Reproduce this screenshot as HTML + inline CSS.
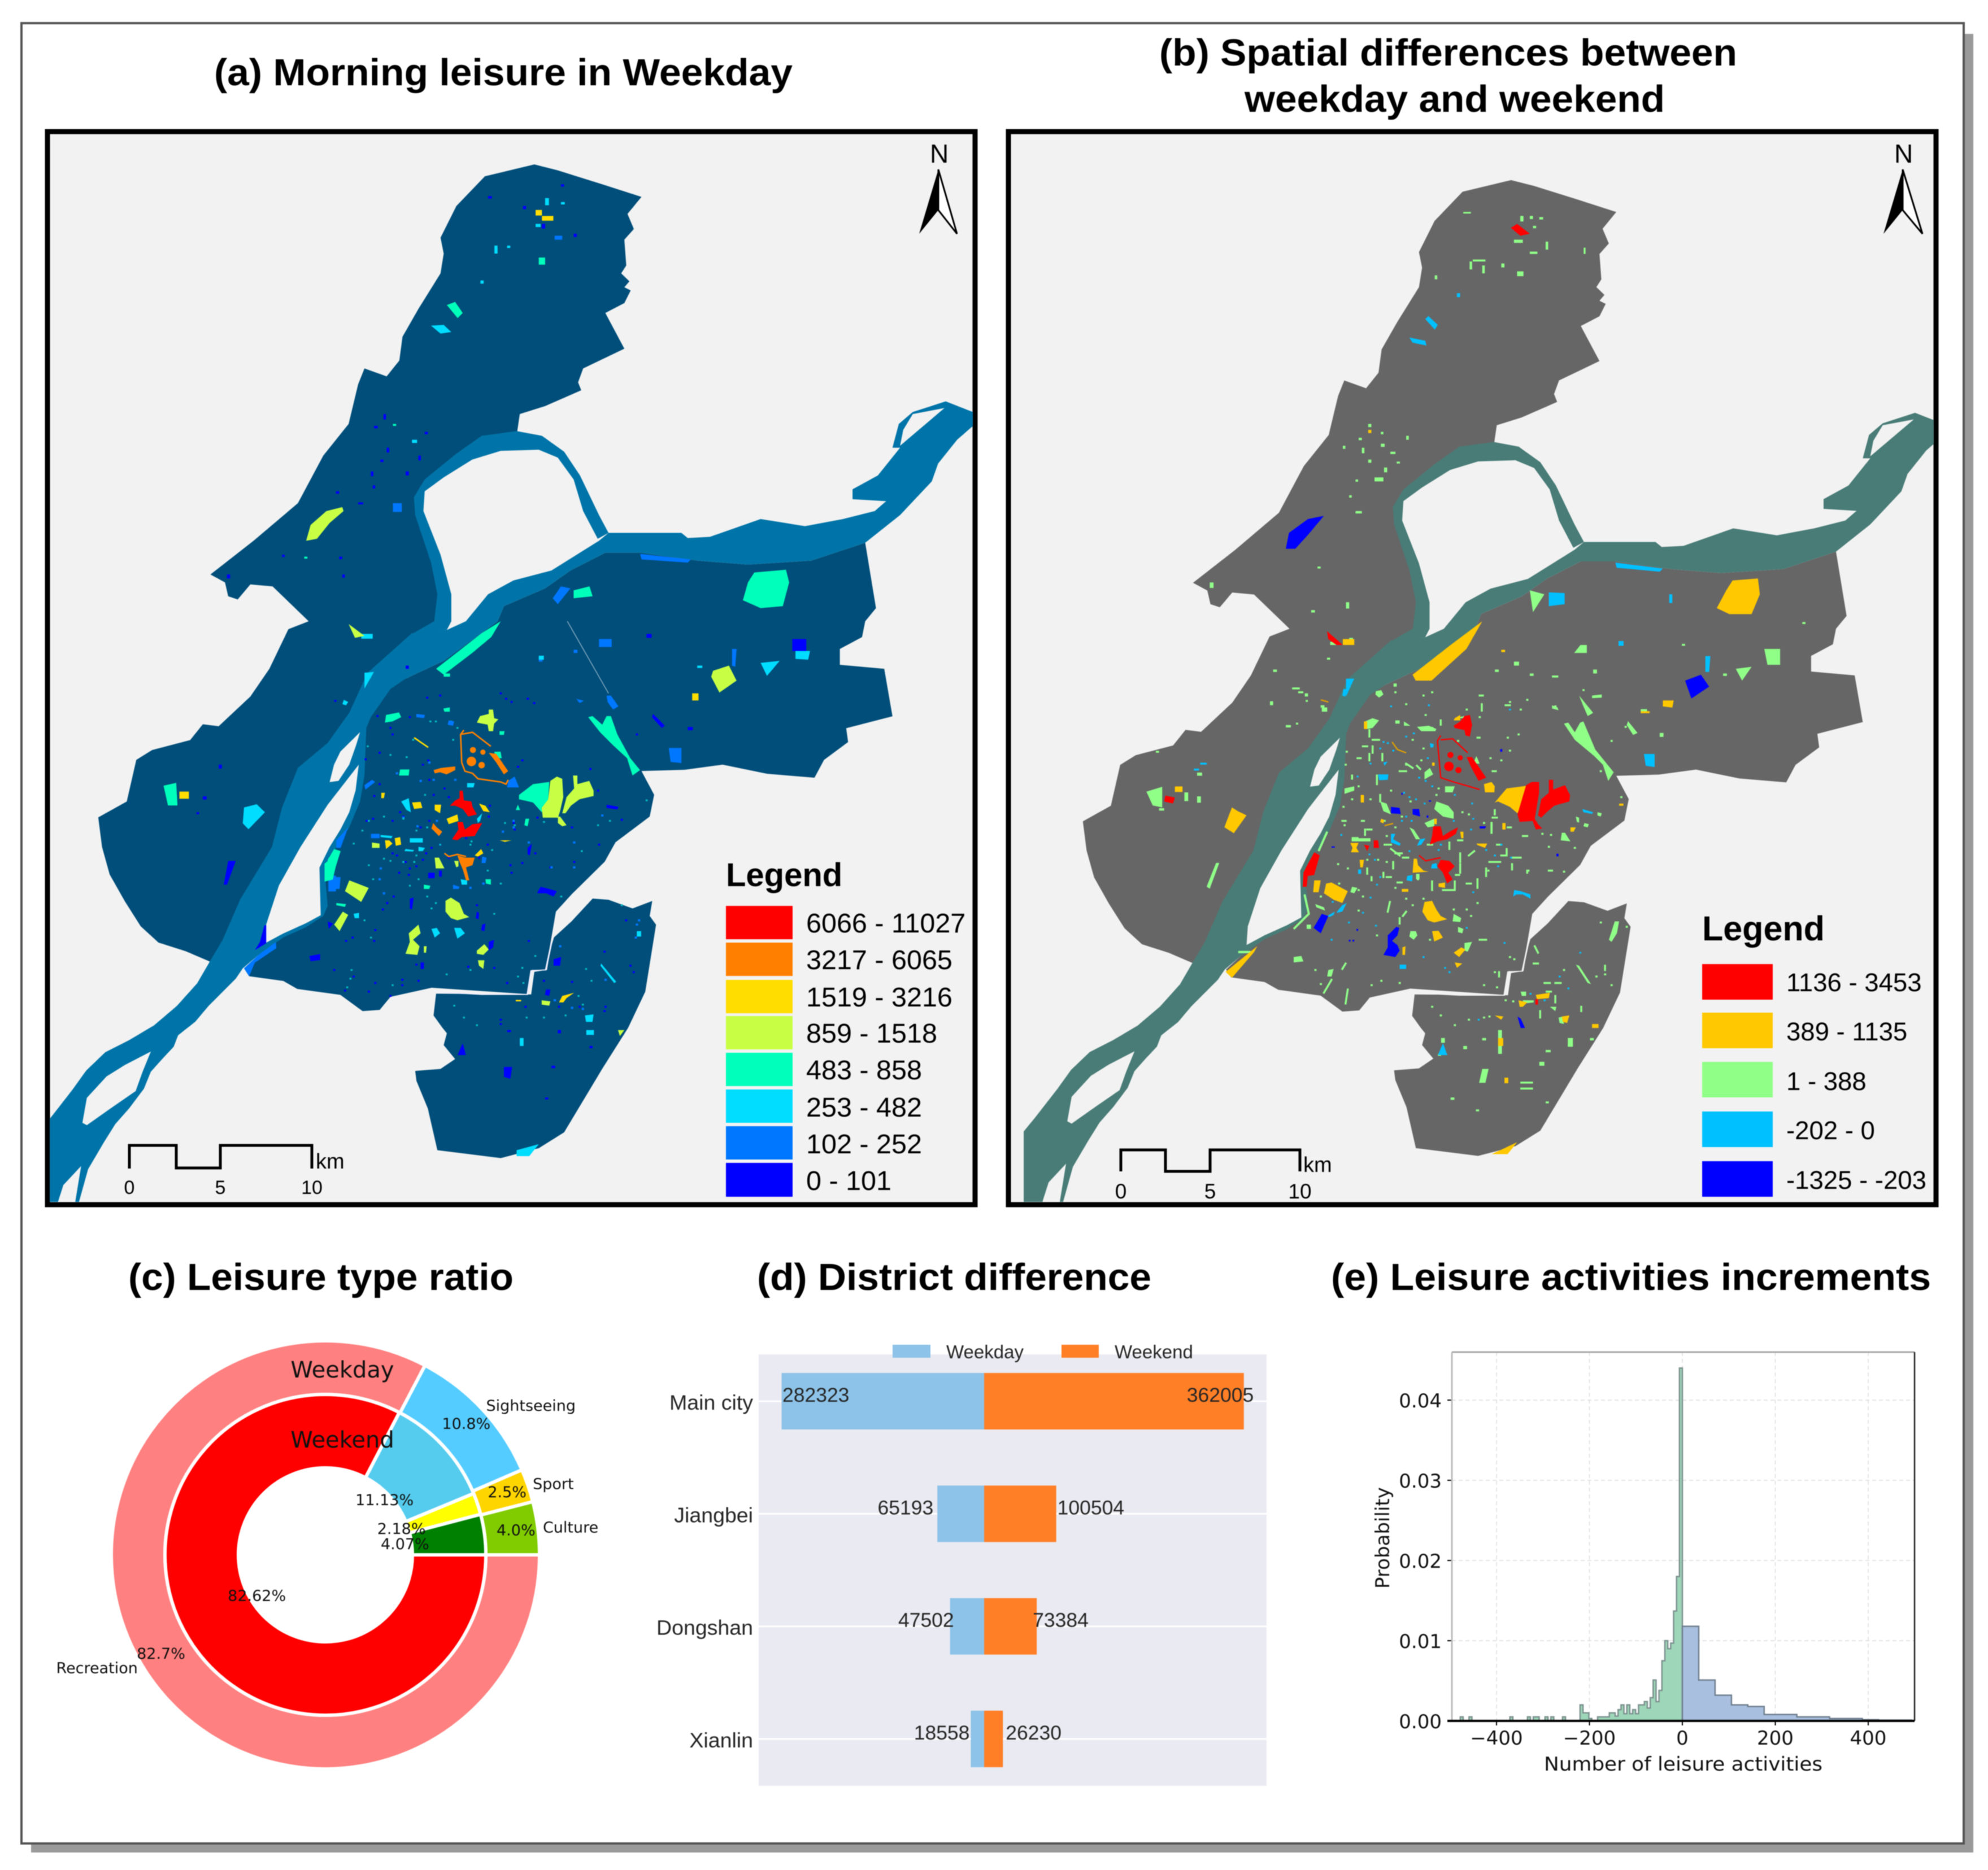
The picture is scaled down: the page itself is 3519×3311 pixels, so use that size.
<!DOCTYPE html>
<html lang="en">
<head>
<meta charset="utf-8">
<title>Leisure activity maps and charts</title>
<style>
html,body{margin:0;padding:0;background:#fff;}
svg{display:block;filter:blur(0.8px);}
text{font-family:"Liberation Sans",sans-serif;}
.dj{font-family:"DejaVu Sans",sans-serif;}
.ttl{font-weight:bold;font-size:67px;fill:#000;}
</style>
</head>
<body>
<svg id="root" xmlns="http://www.w3.org/2000/svg" width="3519" height="3311" viewBox="0 0 3519 3311">
<defs>
<clipPath id="clipA"><rect x="88" y="237" width="1634" height="1891"/></clipPath>
<clipPath id="clipB"><rect x="1789" y="237" width="1634" height="1891"/></clipPath>
<path id="landWest" d="M843 415L880 430 950 465 1012 497 990 540 1000 578 985 605 988 670 980 690 993 710 985 725 995 733 985 765 955 790 985 880 920 930 912 965 917 985 860 1025 820 1045 815 1100 760 1110 720 1155 680 1215 660 1255 662 1300 688 1420 700 1500 695 1568 655 1605 590 1698 560 1799 525 1875 480 1938 455 2038 437 2138 387 2270 359 2373 339 2427 331 2427 293 2401 250 2379 222 2338 197 2275 173 2207 161 2138 155 2063 200 2023 215 1918 240 1893 300 1868 320 1828 345 1833 395 1758 425 1688 455 1588 487 1568 430 1480 395 1475 375 1513 360 1505 355 1470 332 1450 400 1365 470 1270 510 1150 550 1070 565 970 575 930 610 950 630 910 635 850 660 780 695 690 700 640 695 600 720 520 765 445Z"/>
<path id="landEast" d="M1365 1370L1382 1535 1365 1568 1360 1608 1325 1638 1325 1678 1395 1688 1408 1808 1335 1838 1338 1873 1300 1918 1285 1963 1210 1953 1140 1930 1080 1943 1012 1946 1032 2006 1025 2061 971 2126 954 2175 902 2257 877 2301 870 2366 861 2448 839 2448 832 2509 681 2493 616 2516 599 2549 572 2552 537 2511 469 2496 447 2476 393 2464 385 2444 425 2385 480 2335 505 2310 505 2195 515 2160 530 2132 545 2088 562 2023 570 1957 572 1837 580 1810 610 1739 640 1713 700 1668 785 1568 795 1530 860 1485 900 1440 955 1395 1010 1395 1100 1415 1180 1425 1280 1415Z"/>
<path id="landSouth" d="M688 2508L684 2563 698 2594 705 2608 700 2638 718 2673 695 2698 655 2703 657 2728 675 2798 690 2903 790 2923 850 2898 890 2858 950 2698 991 2594 1018 2503 1035 2334 1025 2312 1029 2274 998 2293 960 2271 935 2268 902 2325 874 2366 868 2398 863 2448 843 2453 838 2510Z"/>
<path id="riverMain" d="M1492 1013L1535 1040 1535 1075 1510 1110 1480 1170 1470 1215 1420 1300 1365 1370 1280 1415 1180 1425 1100 1415 1010 1395 955 1395 900 1440 860 1485 795 1530 785 1568 700 1668 640 1713 616 1739 585 1810 578 1837 575 1957 568 2023 551 2088 534 2132 520 2160 512 2195 517 2287 510 2312 483 2340 447 2366 430 2385 408 2410 383 2444 372 2470 329 2539 308 2579 281 2613 274 2642 257 2671 238 2705 227 2748 204 2797 182 2837 164 2883 139 2951 120 3060 60 3060 60 2860 78 2825 114 2751 136 2702 166 2656 204 2625 243 2588 279 2539 311 2482 331 2427 351 2373 379 2270 429 2138 445 2038 470 1938 517 1875 551 1799 580 1698 650 1598 705 1590 735 1568 770 1500 810 1465 870 1440 945 1365 960 1345 1075 1345 1085 1358 1120 1355 1200 1310 1270 1328 1330 1310 1380 1290 1398 1265 1345 1260 1345 1235 1385 1200 1420 1130 1408 1130 1418 1070 1440 1040Z"/>
<path id="riverArch" d="M815 1088L760 1100 720 1145 670 1210 653 1255 655 1300 680 1420 690 1500 685 1568 650 1600 705 1590 712 1568 712 1500 695 1400 668 1290 670 1240 700 1205 745 1160 790 1138 850 1135 880 1155 905 1210 920 1290 943 1360 960 1345 945 1300 915 1200 890 1140 855 1100Z"/>
<path id="riverHoles" d="M1440 1045L1490 1030 1420 1125 1425 1085ZM568 1848L537 1897 527 1930 520 1974 534 1971 551 1930 562 1880ZM566 1930L517 2031 474 2138 440 2235 420 2333 418 2381 447 2356 483 2330 506 2310 504 2190 520 2138 537 2094 551 2050 561 1995ZM238 2654L197 2688 168 2717 137 2771 130 2834 137 2840 175 2797 214 2754 225 2705ZM128 2943L100 2991 91 3036 88 3060 116 3060Z"/>
</defs>

<rect x="0" y="0" width="3519" height="3311" fill="#fff"/>
<rect x="55" y="60" width="3438" height="3220" fill="#9a9a9a"/>
<rect x="38" y="41" width="3438" height="3223" fill="#fff" stroke="#555" stroke-width="4"/>

<text class="ttl" x="379" y="151" textLength="1024" lengthAdjust="spacingAndGlyphs">(a) Morning leisure in Weekday</text>
<text class="ttl" x="2052" y="116" textLength="1023" lengthAdjust="spacingAndGlyphs">(b) Spatial differences between</text>
<text class="ttl" x="2203" y="198" textLength="744" lengthAdjust="spacingAndGlyphs">weekday and weekend</text>
<text class="ttl" x="227" y="2284" textLength="682" lengthAdjust="spacingAndGlyphs">(c) Leisure type ratio</text>
<text class="ttl" x="1340" y="2284" textLength="698" lengthAdjust="spacingAndGlyphs">(d) District difference</text>
<text class="ttl" x="2356" y="2284" textLength="1062" lengthAdjust="spacingAndGlyphs">(e) Leisure activities increments</text>

<!-- MAP A -->
<g>
<rect x="84" y="233" width="1642" height="1900" fill="#f2f2f2" stroke="#000" stroke-width="9"/>
<g clip-path="url(#clipA)">
<g transform="matrix(1.122,0,0,.7015,0,0)">
<g fill="#014e7a"><use href="#landWest"/><use href="#landEast"/><use href="#landSouth"/></g>
<path d="M690 2504L760 2510 832 2510 838 2450 861 2448 870 2380" fill="none" stroke="#eef" stroke-width="2.5"/>
<path d="M895 1568L960 1750" fill="none" stroke="#7fa6bd" stroke-width="1.5"/>
<g fill="#0074a8"><use href="#riverMain"/><use href="#riverArch"/></g>
<use href="#riverHoles" fill="#f2f2f2"/>

<path fill="#0000ff" d="M360 2173L372 2173 358 2233 353 2233ZM417 2336L420 2335 420 2381 402 2398 410 2378ZM488 2413L505 2408 505 2423 490 2426ZM795 2693L808 2693 805 2723 795 2718ZM1250 1613L1272 1613 1272 1643 1250 1643ZM730 2633L735 2663 722 2663Z
M825 520h5v8h-5zM905 590h5v8h-5zM855 565h5v12h-5zM885 465h5v6h-5zM770 495h6v6h-6zM605 1045h4v14h-4zM590 1075h6v6h-6zM610 1130h4v12h-4zM600 1160h5v6h-5zM585 1190h4v12h-4zM660 1150h4v12h-4zM670 1090h5v6h-5zM640 1190h5v10h-5zM588 1225h4v8h-4zM530 1240h5v6h-5zM565 1268h8v5h-8zM445 1400h4v6h-4zM535 1405h5v6h-5zM540 1450h4v8h-4zM358 1450h5v10h-5z
M1020 1600h8v10h-8zM850 1660h6v10h-6zM640 1680h5v8h-5zM1085 1835h8v8h-8zM320 2010h6v8h-6zM345 1930h5v10h-5zM310 2050h4v5h-4zM800 2600h6v5h-6zM880 2600h5v8h-5zM870 2690h6v6h-6zM930 2640h5v6h-5zM860 2770h5v5h-5z"/>

<path fill="#0077ff" d="M1010 1398L1090 1412 1085 1420 1012 1412ZM885 1480L900 1485 880 1525 872 1510ZM1055 1888L1075 1888 1075 1926 1058 1923ZM945 1613L965 1613 965 1633 945 1633ZM1155 1638L1162 1638 1160 1683 1155 1680ZM385 2444L393 2464 402 2430 436 2393 435 2378 408 2410ZM620 1270h14v22h-14zM875 595h12v10h-12zM850 1660h6v10h-6zM905 1640h6v8h-6zM518 2210h12v40h-12z"/>

<path fill="#00ddff" d="M680 822L700 820 712 838 695 842ZM385 2038L405 2030 418 2050 392 2093 383 2078ZM815 2903L850 2888 835 2918 815 2918ZM1200 1673L1230 1668 1210 1706ZM1255 1643L1278 1643 1275 1665 1255 1663ZM575 1698L590 1696 575 1738ZM860 500h6v18h-6zM885 510h6v6h-6zM845 565h8v8h-8zM780 620h5v20h-5zM800 620h5v6h-5zM758 708h5v8h-5zM650 1110h8v8h-8zM570 1600h18v12h-18zM850 1655h8v10h-8zM820 2620h6v20h-6zM925 2600h12v12h-12zM1100 1680h8v6h-8z"/>

<path fill="#00ffbb" d="M1190 1445L1240 1438 1245 1470 1235 1530 1200 1535 1172 1515 1180 1470ZM705 770L718 762 730 790 722 803ZM905 1490L930 1480 935 1505 905 1510ZM790 1568L775 1608 745 1648 700 1703 688 1688 720 1648 760 1598ZM258 1983L278 1976 280 2033 265 2033ZM512 2180L535 2150 525 2220 512 2225ZM850 650h10v18h-10zM620 1070h5v5h-5zM480 1405h5v5h-5zM700 1700h10v8h-10z"/>

<path fill="#c8ff44" d="M540 1280L515 1290 490 1325 483 1365 500 1360 520 1320 542 1290ZM1125 1693L1150 1680 1162 1718 1135 1748 1122 1708ZM550 1575L575 1605 560 1610ZM975 2600L985 2600 978 2615Z"/>

<path fill="#ffdd00" d="M283 1998h15v18h-15zM845 530h10v14h-10zM855 545h18v12h-18zM1092 1750h10v18h-10z"/>
</g>

<!-- central city detail of map A -->
<g transform="matrix(.3827,0,0,.3827,580,1220)">
<path fill="none" stroke="#0000ff" stroke-width="9" stroke-linecap="square" d="M35 55h1M460 40h1M520 30h1M800 20h1M825 45h1M850 60h1M925 45h1M955 65h1M230 125h1M380 130h1M290 180h1M300 210h1M240 295h1M175 325h1M240 440h1M215 495h1M195 430h1M440 350h1M465 330h1M470 420h1M540 460h1M490 490h1M560 500h1M470 610h1M430 640h1M350 590h1M335 570h1M300 610h1M210 600h1M180 610h1M300 760h1M320 770h1M330 850h1M380 830h1M375 860h1M410 820h1M360 800h1M440 790h1M455 760h1M480 735h1M520 720h1M560 780h1M640 690h1M700 780h1M740 720h1M745 590h1M750 540h1M860 620h1M865 650h1M970 595h1M1010 540h1M1130 640h1M1250 470h1M1255 720h1M1360 605h1M1430 210h1M1535 155h1M1215 370h1M900 330h1M880 360h1M1140 800h1M845 815h1M900 805h1M1030 825h1M850 850h1M960 760h1M690 1000h1M275 990h1M305 960h1M255 1020h1M220 1115h1M115 1150h1M85 1165h1M215 1165h1M410 1275h1M650 1285h1M770 1290h1M1000 1350h1M830 1360h1M930 1165h1M1280 1215h1M1400 1280h1M1415 1310h1M1380 1070h1M1285 1470h1M345 1345h1M345 1370h1M290 1420h1M190 1400h1M420 1350h1M220 1360h1M80 1395h1M30 1300h1M120 1330h1M1165 1470h1M1070 1470h1M1130 1355h1M915 1470h1M800 1530h1M800 1550h1M1280 1490h1"/>
<path fill="none" stroke="#0077ff" stroke-width="10" stroke-linecap="square" d="M470 340h1M490 420h1M590 420h1M430 425h1M320 390h1M860 610h1M860 640h1M1270 585h1M1140 710h1M1140 825h1M1035 825h1M810 660h1M930 710h1M245 830h1M260 945h1M240 880h1M505 610h1M415 635h1M350 595h1M720 900h1M660 920h1M1075 1190h1M1430 1090h1M1440 1070h1M1425 1150h1M1015 1400h1M1050 1440h1M1130 1475h1M1180 1480h1M1285 1345h1"/>
<path fill="none" stroke="#00bfc4" stroke-width="8" stroke-linecap="square" d="M185 265h1M290 305h1M365 315h1M395 235h1M580 235h1M475 150h1M500 150h1M570 150h1M600 180h1M450 490h1M260 590h1M190 610h1M160 655h1M120 715h1M410 655h1M460 640h1M350 600h1M410 770h1M260 785h1M290 795h1M350 800h1M400 800h1M190 815h1M210 880h1M380 910h1M420 880h1M520 720h1M665 705h1M660 720h1M760 745h1M740 840h1M800 900h1M865 630h1M820 620h1M1000 615h1M1250 630h1M1305 610h1M1475 515h1M1175 750h1M1080 960h1M500 990h1M460 960h1M480 1015h1M170 1070h1M200 1150h1M110 1300h1M105 1340h1M90 1380h1M300 1370h1M550 1320h1M660 1300h1M770 1040h1M900 1290h1M880 1330h1M905 1360h1M960 1235h1M1195 1295h1M1360 1000h1M1220 1350h1M585 1465h1M630 1520h1M690 1555h1M920 1520h1M1000 1520h1M1100 1510h1M1160 1420h1M1180 1460h1"/>
<path fill="#0077ff" d="M835 425L865 405 885 455 830 455ZM1290 30L1310 30 1345 80 1320 95 1295 60ZM30 870L60 870 55 925 30 925ZM1150 45L1185 55 1165 65ZM205 420L220 430 175 465 170 445ZM200 670L240 670 240 690 200 690ZM410 115L450 120 445 135 410 130ZM560 145L585 150 580 170 555 165ZM580 905L610 915 605 925 580 925ZM715 775L735 780 730 805 712 805ZM40 700L95 640 60 735 40 735Z"/>
<path fill="#0000ff" d="M970 940L985 915 1025 925 1060 935 1045 960 1010 945 970 945ZM465 850L495 850 495 875 465 875ZM515 840L528 840 528 868 515 868ZM745 1170L770 1160 765 1195 745 1210ZM0 1075L25 1085 5 1110ZM1290 535L1345 545 1340 557 1290 550ZM1505 115L1560 170 1545 180 1500 130ZM430 1265L445 1265 445 1295 430 1295ZM380 970L398 965 390 1020 380 1015ZM690 1030L700 1035 698 1065 685 1060ZM715 1090L730 1085 725 1120 710 1115ZM925 735L945 715 935 770 925 765ZM1045 1250L1080 1240 1075 1280 1045 1280ZM1010 1390L1030 1390 1025 1420 1005 1415Z"/>
<path fill="#00ddff" d="M340 520L375 505 385 570 365 560ZM645 435L680 435 675 455 645 455ZM480 1110L505 1105 520 1130 495 1150ZM585 1105L615 1105 635 1130 600 1155ZM615 880L645 885 645 905 620 905ZM380 690L440 690 440 710 380 710ZM420 730L450 735 440 750 420 750ZM245 675L300 680 295 690 245 685ZM690 600L715 575 705 610 695 620ZM1265 1270L1335 1355 1325 1360 1262 1280ZM1430 1120L1450 1120 1450 1145 1430 1145ZM120 1040L145 1035 145 1060 125 1060ZM1190 1510L1230 1505 1225 1540 1195 1540ZM75 50L95 60 85 75 68 70ZM360 740L400 745 395 752 355 750Z"/>
<path fill="#00ffbb" d="M1025 430L1020 510 990 570 950 525 885 510 885 490 950 440ZM270 120L330 108 340 130 300 150 265 155ZM1205 130L1225 125 1270 165 1290 125 1310 125 1340 210 1400 320 1445 375 1410 400 1385 320 1320 260 1260 200ZM335 372L378 372 375 400 330 400ZM535 90L565 85 565 105 540 105ZM0 790L30 740 60 750 30 845 0 848ZM795 195L818 195 815 212 795 212ZM880 535L890 560 870 560ZM915 600L932 600 925 635 910 630ZM770 290L800 290 805 320 780 320ZM730 880L755 880 755 905 732 900ZM445 905L475 910 470 925 445 925ZM40 990L85 995 80 1008 40 1000Z"/>
<path fill="#c8ff44" d="M705 125L745 115 745 95 765 95 770 135 790 140 770 160 765 195 745 195 740 165 690 155ZM1030 425L1060 405 1085 415 1090 500 1075 565 1065 595 995 595 990 550 1020 510ZM1135 400L1155 400 1155 440 1210 425 1230 470 1230 495 1165 510 1125 540 1100 575 1085 575 1105 500 1140 460ZM1065 590L1075 590 1105 630 1085 635 1065 620ZM100 885L190 920 155 985 80 935ZM545 980L570 965 610 990 630 1040 655 1055 600 1070 570 1060 545 1030ZM70 1030L95 1045 55 1120 30 1090ZM420 1090L430 1130 395 1160 425 1190 415 1230 360 1225 380 1170 375 1130ZM690 1210L725 1180 745 1205 720 1230 690 1225ZM695 1255L725 1255 720 1295 700 1280ZM495 780L515 780 540 830 500 830ZM205 710L240 715 240 735 205 735ZM990 1440L1030 1445 1025 1465 990 1460ZM585 795L605 795 605 820 595 825ZM445 1190L458 1190 455 1220 445 1220Z"/>
<path fill="#ffdd00" d="M390 525L430 522 438 550 400 555ZM495 535L525 535 520 575 495 560ZM550 600L600 580 605 610 560 625ZM700 530L730 540 750 570 720 565ZM248 480L265 480 260 505 248 505ZM680 770L710 740 720 760 695 775ZM265 700L285 700 300 715 270 740ZM310 690L335 685 340 720 315 725ZM795 700L850 700 820 707ZM1085 1420L1140 1405 1105 1430 1090 1450 1070 1450ZM870 1438L895 1438 895 1445 870 1445Z"/>
<path fill="none" stroke="#ffdd00" stroke-width="7" d="M400 225L465 270"/>
<path fill="#ff8000" d="M488 620L505 640 530 660 515 680 480 645ZM490 375L525 365 590 358 590 375 550 395 520 385 495 390ZM745 295L780 300 835 380 815 395 780 340ZM600 770L635 780 680 780 670 815 640 825 655 885 640 885 625 835 610 800Z"/>
<g fill="#ff8000"><circle cx="672" cy="282" r="14"/><circle cx="718" cy="292" r="12"/><circle cx="665" cy="335" r="22"/><circle cx="712" cy="352" r="15"/></g>
<path fill="none" stroke="#ff8000" stroke-width="7" d="M630 190L615 210 620 340 635 380 670 390 695 415 800 430 825 440 835 420M615 210L670 200 755 265M540 760L560 775 600 765 640 775"/>
<path fill="#ff0000" d="M610 470L625 470 630 515 665 520 670 545 690 580 650 590 625 555 590 540 565 540 590 515 610 505ZM600 615L625 615 635 650 670 625 715 620 680 680 620 685 600 700 575 695 605 650Z"/>
</g>
</g>
<text x="1646" y="288" font-size="46">N</text>
<path d="M1661 300L1627 414 1661 372Z" fill="#000"/>
<path d="M1661 300L1694 414 1661 372Z" fill="#fff" stroke="#000" stroke-width="3"/>
<path d="M229 2069V2028H312V2068H390V2028H552V2069" fill="none" stroke="#000" stroke-width="5"/>
<g font-size="34" text-anchor="middle">
<text x="229" y="2114">0</text>
<text x="390" y="2114">5</text>
<text x="552" y="2114">10</text>
</g>
<text x="559" y="2069" font-size="38">km</text>

<g>
<text x="1285" y="1569" font-size="58" font-weight="bold">Legend</text>
<g><rect x="1285" y="1604" width="118" height="59" fill="#ff0000"/><text x="1427" y="1651" font-size="48.5">6066 - 11027</text></g>
<g><rect x="1285" y="1669" width="118" height="59" fill="#ff8000"/><text x="1427" y="1716" font-size="48.5">3217 - 6065</text></g>
<g><rect x="1285" y="1735" width="118" height="59" fill="#ffdd00"/><text x="1427" y="1782" font-size="48.5">1519 - 3216</text></g>
<g><rect x="1285" y="1799" width="118" height="59" fill="#c8ff44"/><text x="1427" y="1846" font-size="48.5">859 - 1518</text></g>
<g><rect x="1285" y="1864" width="118" height="59" fill="#00ffbb"/><text x="1427" y="1911" font-size="48.5">483 - 858</text></g>
<g><rect x="1285" y="1929" width="118" height="59" fill="#00ddff"/><text x="1427" y="1977" font-size="48.5">253 - 482</text></g>
<g><rect x="1285" y="1994" width="118" height="59" fill="#0077ff"/><text x="1427" y="2042" font-size="48.5">102 - 252</text></g>
<g><rect x="1285" y="2059" width="118" height="60" fill="#0000ff"/><text x="1427" y="2107" font-size="48.5">0 - 101</text></g>
</g>
</g>

<!-- MAP B -->
<g>
<rect x="1785" y="233" width="1642" height="1900" fill="#f2f2f2" stroke="#000" stroke-width="9"/>
<g clip-path="url(#clipB)">
<g transform="matrix(1.1018,0,0,.6889,1746,33)">
<g fill="#666"><use href="#landWest"/><use href="#landEast"/><use href="#landSouth"/></g>
<path d="M690 2504L760 2510 832 2510 838 2450 861 2448 870 2380" fill="none" stroke="#f2f2f2" stroke-width="2.5"/>
<g fill="#497c77"><use href="#riverMain"/><use href="#riverArch"/></g>
<use href="#riverHoles" fill="#f2f2f2"/>
</g>
<g transform="matrix(1.1218,0,0,.7015,1760,0)">
<path fill="#90ff88" d="M240 1998L265 1986 265 2038 250 2033ZM925 1628L935 1628 935 1648 915 1648ZM1215 1638L1240 1638 1240 1678 1220 1678ZM1170 1688L1195 1683 1180 1718ZM335 2238L350 2178 355 2178 340 2243ZM845 1490L868 1500 850 1545ZM770 2698L780 2698 775 2733 765 2733ZM385 2400h20v6h-20zM1000 1820L1015 1850 1008 1855 998 1830Z
M830 545h5v14h-5zM845 545h5v8h-5zM860 548h6v6h-6zM850 570h5v6h-5zM820 605h14v8h-14zM870 610h4v20h-4zM930 625h3v16h-3zM845 635h12v6h-12zM755 655h20v5h-20zM770 670h4v20h-4zM750 660h4v20h-4zM825 685h10v12h-10zM800 665h5v10h-5zM740 535h12v4h-12zM695 695h4v10h-4z
M590 1070h5v8h-5zM575 1105h5v6h-5zM610 1120h6v8h-6zM625 1140h8v6h-8zM590 1160h5v8h-5zM610 1090h4v6h-4zM650 1100h4v10h-4zM600 1205h14v10h-14zM615 1180h5v12h-5zM570 1210h4v6h-4zM560 1250h4v6h-4zM570 1290h10v6h-10zM550 1125h4v8h-4zM635 1165h5v5h-5zM580 1130h4v14h-4zM340 1470h6v14h-6zM510 1430h5v5h-5zM555 1520h5v16h-5zM500 1540h6v6h-6z
M560 1610h6v10h-6zM530 1620h10v8h-10zM525 1660h5v5h-5zM470 1735h12v5h-12zM435 1770h5v10h-5zM490 1750h5v8h-5zM515 1780h6v6h-6zM460 1830h8v6h-8zM440 1690h6v6h-6zM255 1895h5v5h-5zM320 1950h8v8h-8zM320 2010h6v16h-6zM260 2040h8v6h-8zM300 2000h6v22h-6z
M820 1670h8v10h-8zM845 1700h6v6h-6zM790 1690h6v6h-6zM880 1705h10v5h-10zM945 1690h6v10h-6zM1085 1625h5v5h-5zM1050 1850h6v10h-6zM1020 1790h10v6h-10zM1150 1700h6v6h-6zM1275 1570h5v5h-5zM630 1725h5v8h-5z
M870 2650h8v6h-8zM905 2620h8v22h-8zM795 2600h6v60h-6zM705 2620h6v12h-6zM740 2640h6v8h-6zM700 2660h5v5h-5zM770 2620h6v6h-6zM860 2680h8v10h-8zM830 2730h20v5h-20zM830 2745h20v5h-20zM870 2780h5v5h-5zM720 2770h6v6h-6zM760 2800h5v5h-5zM940 2620h6v6h-6z"/>
<path fill="#00c0ff" d="M685 798L700 820 695 832 680 805ZM655 852L680 860 682 872 660 865ZM980 1420L1055 1435 1050 1443 982 1433ZM875 1495L900 1497 900 1525 875 1530ZM1122 1656L1130 1656 1128 1696 1122 1696ZM1025 1903L1042 1903 1042 1936 1028 1933ZM555 1713L568 1713 555 1758ZM985 1618L993 1618 993 1630 985 1630ZM700 2663L715 2663 708 2633ZM1065 1500h5v22h-5zM730 740h5v10h-5zM325 1925h10v5h-10zM315 1940h8v5h-8z"/>
<path fill="#ffc800" d="M1165 1465L1205 1460 1208 1500 1195 1550 1160 1550 1140 1535 1155 1490ZM770 1568L745 1638 690 1718 665 1718 660 1703 720 1628ZM375 2038L385 2048 398 2058 378 2103 363 2088ZM365 2453L415 2388 410 2403 375 2468ZM785 2913L825 2883 810 2913ZM1055 1768L1072 1768 1070 1786 1055 1783ZM550 1613L568 1613 568 1628 550 1628ZM800 1640h6v6h-6zM590 1085h5v8h-5zM285 1985h12v14h-12zM1020 1795h14v5h-14zM805 2720h6v14h-6zM795 2620h8v20h-8z"/>
<path fill="#ff0000" d="M525 1593L550 1628 540 1628 527 1613ZM825 565L845 590 830 595 815 575ZM270 2008L285 2013 282 2028 268 2023Z"/>
<path fill="#0000ff" d="M520 1302L495 1310 465 1345 460 1385 475 1385 495 1350ZM1090 1718L1115 1703 1128 1733 1100 1763Z"/>
</g>

<!-- central city detail of map B -->
<g transform="matrix(.3827,0,0,.3827,2290,1220)">
<path fill="none" stroke="#90ff88" stroke-width="9" stroke-linecap="square" d="M350 190v30M365 235h30M365 265v30M350 300v30M295 320h15M320 265h20M410 300v30M490 380h30M520 345l30 20M570 355l15 15M385 400v40M270 400v15M400 490v30M340 650h20M330 650v25M225 610h15M420 720h30M450 740l40 30M470 760h30M505 780h25M460 800v30M415 850v20M430 870h20M340 830v25M360 870v15M480 895h20M575 860v20M640 890v40M690 930h50M745 890v40M800 900h20M850 880v40M810 770l25 -20M905 800h50M890 830v35M1010 810v25M1010 780h40M960 770h20M985 740v30M940 720h20M770 760v40M720 710v30M760 700h20M770 810v40M750 860h15M1080 840v10M1180 840h15M1060 680h20M990 640h15M930 560v20M920 595h20M620 720h20M445 985l-10 45M175 1345l-35 60M250 1390l-10 65M240 1270l-15 25M520 1030l-15 20M490 1060v25M860 1160h30M950 1310v20M1110 1270h20M1115 1190l15 30M1160 1360h25M1210 1360h25M1170 1400h20M1210 1420v30M1140 1490v30M1330 1470v20M1440 1280v20
M25 15h15M60 55h1M140 90h1M15 160h1M470 15h1M520 70h1M640 15h1M600 30h1M980 75h20M860 30h15M870 70v30M1050 95h1M1210 80h1M1340 5h1M680 145v20M800 95h1M610 120h1M860 130h1M1040 210h1M990 225h1M850 225h10M1000 285h1M760 240h1M920 380h15M960 330h1M910 320h1M550 235h1M600 275h1M245 290h1M240 350h1M300 450h1M270 510h1M355 510h1M230 545h1M315 610h10M235 630h1M450 470h1M420 610h1M495 380h1M590 330h1M520 350h1M660 490h1M670 460h1M640 180h1M540 520h1M500 590h1M430 680h1M470 640h1M430 800h1M390 790h1M340 790h1M205 810h1M250 830h1M300 930h1M320 960h1M125 960h1M210 900h1M470 920h1M520 970h1M600 970h1M740 1020h1M800 1020h1M820 1050h1M850 990h1M630 1160h1M385 1140h1M550 1000h1M900 840h1M880 620h1M810 580h1M780 570h1M1150 670h1M1190 675h1M1180 730h1M1300 735h1M1085 840h1M1250 845h1M1020 1250h1M930 1310h1M1000 1240h1M300 1025h1M100 1300h1M125 1365h1M360 1370h1M405 1350h1M490 1360h1M880 1370h1M940 1380h1M640 1470h1M680 1510h1M745 1555h1M810 1530h1M880 1520h1M905 1515h1M980 1440h1M1015 1445h1M1400 1330h1M1470 1370h1M1420 1080h1M1540 1100h1M1250 1300h1M1440 1320h1M1515 500h1M1470 240h1M1535 175h1M1420 380h1M1000 60h1M1080 50h1"/>
<path fill="none" stroke="#00c0ff" stroke-width="8" stroke-linecap="square" d="M450 80h1M625 75h1M1000 95h1M520 220h1M555 205h1M415 245h1M435 250h1M400 275h1M460 285h1M620 320h1M355 345h1M295 405h1M580 410h1M610 425h1M640 450h1M535 500h1M510 480h1M565 510h1M605 530h1M745 490h1M825 530h1M520 590h1M500 610h1M545 610h1M830 600h1M740 610h1M820 650h1M220 675h1M680 720h1M960 720h1M930 770h1M1005 780h1M945 820h1M890 745h1M350 765h1M375 790h1M535 750h1M670 745h1M400 870h1M385 905h1M830 940h1M180 985h1M355 965h1M255 1080h1M320 1035h1M380 1095h1M800 1105h1M975 1175h1M175 1160h1M600 1240h1M700 1290h1M720 1310h1M1325 1220h1M1230 1330h1M1270 1385h1M1095 1410h1M855 1530h1M1160 1440h1"/>
<path fill="none" stroke="#90ff88" stroke-width="10" d="M155 660L115 750M50 950L70 1040 0 1110"/>
<path fill="#90ff88" d="M330 150L365 135 395 145 365 180 340 185ZM380 10L405 5 415 25 395 40 378 25ZM1320 30L1385 110 1360 125 1340 80ZM1250 160L1270 155 1300 200 1325 155 1340 150 1395 280 1480 385 1455 425 1430 350 1390 310 1300 235ZM1380 30L1425 25 1425 40 1380 42ZM1195 75L1220 85 1225 98 1195 90ZM570 175L625 170 660 185 655 195 590 195ZM470 145L490 145 490 160 470 160ZM510 150L540 170 510 170ZM605 385L630 365 645 395 605 418ZM700 450L745 450 735 478 700 478ZM660 520L715 540 740 570 740 600 690 590 650 555ZM400 520L430 530 450 580 415 565ZM605 620L650 600 650 635 620 640ZM535 640L555 650 585 695 565 695ZM845 310L860 345 830 345ZM235 460L280 450 280 470 235 485ZM268 685L300 685 300 705 268 705ZM300 690L355 690 355 705 300 705ZM0 1240L35 1235 45 1260 0 1265ZM270 915L295 920 280 945 262 940ZM100 995L140 1010 145 1025 105 1010ZM540 1120L565 1120 572 1140 555 1160 535 1145ZM740 1040L775 1060 770 1078 735 1075ZM760 1100L785 1110 780 1130 760 1125ZM790 1175L825 1170 805 1215 790 1210ZM1240 665L1255 665 1280 705 1235 700ZM1305 1275L1320 1280 1375 1365 1360 1360ZM910 615L920 615 920 670 910 670ZM1345 620L1365 625 1360 640 1340 635ZM1405 570L1425 575 1420 590 1405 585ZM1305 590L1320 595 1320 618 1310 615ZM1485 1075L1505 1075 1495 1130 1470 1170 1458 1160ZM1050 1400L1075 1400 1075 1420 1055 1420ZM1060 1440L1110 1440 1110 1450 1060 1455ZM1185 1470L1215 1470 1210 1490ZM1225 1520L1245 1515 1250 1550 1230 1545ZM60 1090L80 1090 80 1110 60 1110ZM160 1300L185 1295 175 1330 155 1330ZM765 130L790 125 790 135 765 135ZM566 855L582 855 582 880 566 880ZM130 85L155 85 155 105 130 105Z"/>
<path fill="#00c0ff" d="M390 395L438 395 435 420 395 422ZM525 865L550 860 548 890 522 885ZM450 670L470 670 460 695 495 715 490 725 450 710ZM1020 930L1050 935 1095 950 1095 970 1060 950 1030 950 1015 960ZM640 810L660 805 665 830 635 830ZM490 1275L520 1275 520 1295 490 1295ZM1335 555L1385 570 1380 578 1340 570ZM298 835L312 835 312 855 298 855ZM630 250L648 255 645 270 632 270ZM155 1050L190 1030 185 1045 165 1055ZM200 1030L225 1000 245 990 225 1030 200 1035ZM415 340L435 335 420 355ZM585 695L610 690 590 720 570 725ZM230 0L250 0 238 35 225 30Z"/>
<path fill="#ffc800" d="M985 460L1075 448 1070 505 1035 575 1000 545 945 520 930 525ZM150 900L175 895 250 935 225 990 185 975 140 945ZM95 885L125 885 115 940 90 940ZM605 985L640 980 660 1020 680 1050 710 1065 650 1080 620 1070 595 1030ZM640 1120L670 1118 690 1150 650 1168ZM740 1220L775 1195 795 1205 765 1240ZM745 1265L780 1270 755 1290ZM555 785L570 785 575 815 600 840 625 845 550 850ZM262 712L300 712 290 735 302 755 265 755 272 735ZM880 440L915 430 930 450 928 478 885 478ZM965 620L980 620 980 650 965 650ZM325 150L340 150 340 185 325 185ZM310 490L325 490 325 525 310 525ZM305 790L325 790 320 825 308 825ZM500 925L530 925 530 938 500 938ZM503 1195L517 1190 515 1230 503 1230ZM1280 640L1305 640 1295 660 1280 660ZM1040 1440L1080 1450 1060 1470 1045 1470ZM1120 1415L1185 1405 1180 1430 1125 1435ZM1505 530L1525 530 1525 540 1505 540ZM650 600L662 600 662 625 650 625ZM405 600L418 605 415 622 400 615ZM845 715L895 715 885 735 850 722ZM770 660L785 660 785 690 775 690ZM1240 1515L1275 1510 1265 1545 1245 1540ZM1380 1550L1410 1550 1410 1568 1380 1568ZM930 1510L970 1515 960 1530ZM670 900L700 895 700 920 670 915ZM745 135L770 120 770 145 740 145ZM640 340L652 340 652 355 640 355Z"/>
<path fill="none" stroke="#e0a000" stroke-width="6" d="M455 245L480 280 520 295M420 632L460 622M125 50L160 60"/>
<path fill="#ff0000" d="M770 150L790 125 815 120 825 165 815 220 795 215 790 190 745 180 740 170ZM1075 445L1100 430 1135 430 1135 480 1115 600 1130 625 1150 645 1120 650 1105 610 1045 615 1035 580ZM1180 420L1200 420 1200 465 1255 445 1278 490 1275 520 1205 540 1170 570 1145 595 1130 585 1145 510 1180 480ZM95 755L120 770 95 860 65 865 60 915 42 915 45 850 65 810ZM800 315L825 315 890 410 855 425 820 360ZM645 635L680 635 690 680 720 660 760 640 750 670 710 695 665 705 630 720 640 680ZM680 790L720 795 745 820 715 850 735 880 710 900 690 850 665 820ZM370 700L390 700 395 735 370 735ZM325 720L350 725 340 750ZM1118 1435h12v25h-12z"/>
<g fill="#ff0000"><circle cx="725" cy="305" r="14"/><circle cx="770" cy="318" r="12"/><circle cx="718" cy="358" r="22"/><circle cx="762" cy="375" r="14"/></g>
<path fill="none" stroke="#ff0000" stroke-width="6" d="M680 215L665 240 680 410 740 430 810 450 860 465M680 235L735 230 805 295M580 770L610 795 680 780"/>
<path fill="#0000ff" d="M130 1040L160 1050 125 1130 92 1105ZM475 1100L488 1105 480 1140 455 1165 480 1185 490 1210 470 1240 415 1230 435 1195 435 1140ZM450 545L490 550 495 578 450 575ZM550 555L580 555 585 590 550 580ZM1035 1515L1050 1525 1070 1568 1050 1568ZM860 635L890 635 885 645 860 645ZM955 278h10v12h-10zM1215 762h10v12h-10zM175 728h15v6h-15zM290 1110h8v8h-8zM255 1160h8v8h-8zM272 1160h8v8h-8zM498 480h6v10h-6zM625 515h10v6h-10zM615 585h8v10h-8z"/>
</g>
</g>
<text x="3353" y="288" font-size="46">N</text>
<path d="M3368 300L3334 414 3368 372Z" fill="#000"/>
<path d="M3368 300L3403 414 3368 372Z" fill="#fff" stroke="#000" stroke-width="3"/>
<path d="M1984 2074V2036H2063V2074H2142V2036H2301V2074" fill="none" stroke="#000" stroke-width="5"/>
<g font-size="37" text-anchor="middle">
<text x="1984" y="2122">0</text>
<text x="2142" y="2122">5</text>
<text x="2301" y="2122">10</text>
</g>
<text x="2307" y="2075" font-size="38">km</text>

<g>
<text x="3013" y="1665" font-size="61" font-weight="bold">Legend</text>
<g><rect x="3013" y="1707" width="125" height="63" fill="#ff0000"/><text x="3162" y="1755" font-size="45.5">1136 - 3453</text></g>
<g><rect x="3013" y="1793" width="125" height="63" fill="#ffc800"/><text x="3162" y="1842" font-size="45.5">389 - 1135</text></g>
<g><rect x="3013" y="1880" width="125" height="63" fill="#90ff88"/><text x="3162" y="1930" font-size="45.5">1 - 388</text></g>
<g><rect x="3013" y="1968" width="125" height="63" fill="#00c0ff"/><text x="3162" y="2017" font-size="45.5">-202 - 0</text></g>
<g><rect x="3013" y="2056" width="125" height="63" fill="#0000ff"/><text x="3162" y="2105" font-size="45.5">-1325 - -203</text></g>
</g>
</g>

<g id="pie"></g>
<g id="bars"></g>
<g id="hist"></g>
</svg>

<script>
// ---- Chart (c) data ----
const leisureTypes = ['Culture', 'Sport', 'Sightseeing', 'Recreation'];
const weekdayShares = [4.0, 2.5, 10.8, 82.7];
const weekendShares = [4.07, 2.18, 11.13, 82.62];
const ringNames = ['Weekday', 'Weekend'];

// ---- Chart (d) data ----
const districts = ['Main city', 'Jiangbei', 'Dongshan', 'Xianlin'];
const weekdayCounts = [282323, 65193, 47502, 18558];
const weekendCounts = [362005, 100504, 73384, 26230];
const seriesNames = ['Weekday', 'Weekend'];

// ---- Chart (e) data ----
const decreaseBins = [0.044, 0.018, 0.0137, 0.0097, 0.009, 0.01, 0.0075, 0.0038, 0.0024, 0.0051,
  0.0029, 0.0016, 0.0024, 0.002, 0.002, 0.0009, 0.0014, 0.0009, 0.002, 0.0009,
  0.002, 0.0014, 0.0006, 0.001, 0.001, 0.0005, 0.0005, 0.0005, 0.0005, 0,
  0, 0.0003, 0.001, 0.001, 0.002, 0, 0, 0, 0, 0,
  0.0005, 0, 0, 0, 0.0005, 0, 0.0005, 0, 0, 0.0005,
  0.0005, 0, 0.0005, 0, 0, 0, 0, 0, 0.0005, 0,
  0, 0, 0, 0, 0, 0, 0, 0, 0, 0,
  0, 0, 0.0005, 0, 0, 0.0005, 0, 0, 0];
const increaseBins = [0.0118, 0.0051, 0.0032, 0.002, 0.0018, 0.0008, 0.0008, 0.0005, 0.0005, 0.0003, 0.0003, 0.00015, 0.0001, 0.0001];
const xTickValues = [-400, -200, 0, 200, 400];
const yTickValues = [0, 0.01, 0.02, 0.03, 0.04];

const SVGNS = 'http://www.w3.org/2000/svg';
function mk(parent, tag, attrs, txt) {
  const n = document.createElementNS(SVGNS, tag);
  for (const k in attrs) n.setAttribute(k, attrs[k]);
  if (txt !== undefined) n.textContent = txt;
  parent.appendChild(n);
  return n;
}

// ---- Donut ----
(function () {
  const g = document.getElementById('pie');
  const cx = 576, cy = 2753;
  const outerColors = ['#80cc00', '#ffd500', '#55ccff', '#ff8080'];
  const innerColors = ['#008000', '#ffff00', '#55ccee', '#ff0000'];
  function pt(r, deg) {
    const a = deg * Math.PI / 180;
    return [cx + r * Math.cos(a), cy - r * Math.sin(a)];
  }
  function wedge(r0, r1, a0, a1) {
    const large = a1 - a0 > 180 ? 1 : 0;
    const p0 = pt(r1, a0), p1 = pt(r1, a1), p2 = pt(r0, a1), p3 = pt(r0, a0);
    return 'M' + p0 + 'A' + r1 + ' ' + r1 + ' 0 ' + large + ' 0 ' + p1 + 'L' + p2 + 'A' + r0 + ' ' + r0 + ' 0 ' + large + ' 1 ' + p3 + 'Z';
  }
  function ring(values, colors, r0, r1, ringName) {
    const total = values.reduce((a, b) => a + b, 0);
    let a = 0;
    const mids = [];
    values.forEach((v, i) => {
      const span = v / total * 360;
      const s = mk(g, 'path', { d: wedge(r0, r1, a, a + span), fill: colors[i], stroke: '#fff', 'stroke-width': 6 });
      
      
      mids.push(a + span / 2);
      a += span;
    });
    return mids;
  }
  const midsOuter = ring(weekdayShares, outerColors, 284, 379, 'weekday');
  const midsInner = ring(weekendShares, innerColors, 154, 284, 'weekend');
  const font = { 'class': 'dj', 'font-size': 27, fill: '#111' };
  weekdayShares.forEach((v, i) => {
    const p = pt(340, midsOuter[i]);
    const t = mk(g, 'text', Object.assign({ x: p[0], y: p[1] + 8, 'text-anchor': 'middle' }, font), v.toFixed(1) + '%');
    
    
    const q = pt(388, midsOuter[i]);
    const anchor = Math.cos(midsOuter[i] * Math.PI / 180) >= 0 ? 'start' : 'end';
    const l = mk(g, 'text', Object.assign({ x: q[0], y: q[1] + 9, 'text-anchor': anchor }, font), leisureTypes[i]);
    
    
  });
  weekendShares.forEach((v, i) => {
    const p = pt(142, midsInner[i]);
    const t = mk(g, 'text', Object.assign({ x: p[0], y: p[1] + 8, 'text-anchor': 'middle' }, font), v.toFixed(2) + '%');
    
    
  });
  const rn1 = mk(g, 'text', { 'class': 'dj', 'font-size': 40, x: 606, y: 2439, 'text-anchor': 'middle', fill: '#111' }, ringNames[0]);
  
  
  const rn2 = mk(g, 'text', { 'class': 'dj', 'font-size': 40, x: 606, y: 2563, 'text-anchor': 'middle', fill: '#111' }, ringNames[1]);
  
  
})();

// ---- District bars ----
(function () {
  const g = document.getElementById('bars');
  const x = v => 1742 + v * 0.00127;
  const bandY = i => 2481 + i * 199.3;
  const barH = 100;
  const colors = ['#8dc3e8', '#ff7f27'];
  const weekdayNudge = { 'Main city': 120, 'Jiangbei': -7, 'Dongshan': 7, 'Xianlin': -2 };
  const weekendNudge = { 'Main city': -101, 'Jiangbei': 2, 'Dongshan': -7, 'Xianlin': 5 };

  const bg = mk(g, 'rect', { x: 1343, y: 2398, width: 899, height: 764, fill: '#eaeaf2' });
  
  

  districts.forEach((d, i) => {
    const yc = bandY(i);
    const grid = mk(g, 'line', { x1: 1343, x2: 2242, y1: yc, y2: yc, stroke: '#fff', 'stroke-width': 3 });
    
    
    const left = x(-weekdayCounts[i]);
    const right = x(weekendCounts[i]);
    const b1 = mk(g, 'rect', { x: left, y: yc - barH / 2, width: x(0) - left, height: barH, fill: colors[0] });
    
    
    const b2 = mk(g, 'rect', { x: x(0), y: yc - barH / 2, width: right - x(0), height: barH, fill: colors[1] });
    
    
    const lab = mk(g, 'text', { x: 1333, y: yc + 15, 'text-anchor': 'end', 'font-size': 37.5, fill: '#262626' }, d);
    
    
    const v1 = mk(g, 'text', { x: left + weekdayNudge[d], y: yc + 1, 'text-anchor': 'end', 'font-size': 35.5, fill: '#262626' }, String(weekdayCounts[i]));
    
    
    const v2 = mk(g, 'text', { x: right + weekendNudge[d], y: yc + 1, 'text-anchor': 'start', 'font-size': 35.5, fill: '#262626' }, String(weekendCounts[i]));
    
    
  });

  const s1 = mk(g, 'rect', { x: 1580, y: 2381, width: 67, height: 23, fill: colors[0] });
  
  
  const t1 = mk(g, 'text', { x: 1675, y: 2405, 'font-size': 33, fill: '#262626' }, seriesNames[0]);
  
  
  const s2 = mk(g, 'rect', { x: 1879, y: 2381, width: 66, height: 23, fill: colors[1] });
  
  
  const t2 = mk(g, 'text', { x: 1973, y: 2405, 'font-size': 33, fill: '#262626' }, seriesNames[1]);
  
  
})();

// ---- Histogram ----
(function () {
  const g = document.getElementById('hist');
  const x = v => 2978 + v * 0.8225;
  const y = v => 3047 - v * 14200;
  const negWidth = 6.29, posWidth = 35.2;
  const L = 2570, R = 3389, T = 2394, B = 3047;
  const font = { 'class': 'dj', 'font-size': 34, fill: '#111' };

  xTickValues.forEach(v => {
    const gl = mk(g, 'line', { x1: x(v), x2: x(v), y1: T, y2: B, stroke: '#ddd', 'stroke-width': 1.5, 'stroke-dasharray': '7 5' });
    
    
    const tk = mk(g, 'line', { x1: x(v), x2: x(v), y1: B, y2: B + 8, stroke: '#000', 'stroke-width': 2 });
    
    
    const tx = mk(g, 'text', Object.assign({ x: x(v), y: 3089, 'text-anchor': 'middle' }, font), String(v).replace('-', '\u2212'));
    
    
  });
  yTickValues.forEach(v => {
    if (v > 0) {
      const gl = mk(g, 'line', { x1: L, x2: R, y1: y(v), y2: y(v), stroke: '#ddd', 'stroke-width': 1.5, 'stroke-dasharray': '7 5' });
      
      
    }
    const tk = mk(g, 'line', { x1: L - 8, x2: L, y1: y(v), y2: y(v), stroke: '#000', 'stroke-width': 2 });
    
    
    const tx = mk(g, 'text', Object.assign({ x: 2552, y: y(v) + 13, 'text-anchor': 'end' }, font), v.toFixed(2));
    
    
  });

  function stepPath(values, width, sign) {
    let d = 'M' + x(0) + ' ' + y(0);
    values.forEach((v, i) => {
      d += 'L' + x(sign * i * width) + ' ' + y(v) + 'L' + x(sign * (i + 1) * width) + ' ' + y(v);
    });
    d += 'L' + x(sign * values.length * width) + ' ' + y(0) + 'Z';
    return d;
  }
  const neg = mk(g, 'path', { d: stepPath(decreaseBins, negWidth, -1), fill: '#9dd6b8', stroke: '#7d9390', 'stroke-width': 2.5 });
  
  
  const pos = mk(g, 'path', { d: stepPath(increaseBins, posWidth, 1), fill: '#a8bfdf', stroke: '#707f8f', 'stroke-width': 2.5 });
  
  

  const top = mk(g, 'line', { x1: L, x2: R, y1: T, y2: T, stroke: '#aaa', 'stroke-width': 3 });
  
  
  const lft = mk(g, 'line', { x1: L, x2: L, y1: T, y2: B, stroke: '#bbb', 'stroke-width': 3 });
  
  
  const rgt = mk(g, 'line', { x1: R, x2: R, y1: T, y2: B, stroke: '#222', 'stroke-width': 2.5 });
  
  
  const btm = mk(g, 'line', { x1: L - 8, x2: R, y1: B, y2: B, stroke: '#000', 'stroke-width': 4 });
  
  

  const xt = mk(g, 'text', { 'class': 'dj', 'font-size': 34, x: 2733, y: 3135, textLength: 493, lengthAdjust: 'spacingAndGlyphs', fill: '#111' }, 'Number of leisure activities');
  
  
  const yt = mk(g, 'text', { 'class': 'dj', 'font-size': 34, x: 2459, y: 2723, 'text-anchor': 'middle', transform: 'rotate(-90 2459 2723)', fill: '#111' }, 'Probability');
  
  
})();
</script>
</body>
</html>
